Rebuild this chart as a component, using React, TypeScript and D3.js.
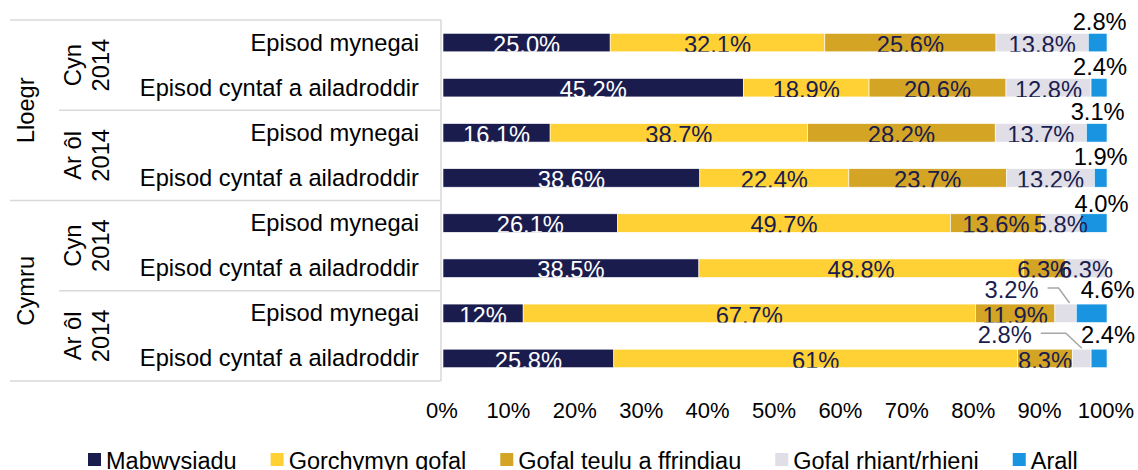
import React, { useEffect, useRef } from "react";
import * as d3 from "d3";

// ---- data ----
const groups = ["Lloegr", "Cymru"];
const periods = [["Cyn", "2014"], ["Ar ôl", "2014"]];
const episodes = ["Episod mynegai", "Episod cyntaf a ailadroddir"];
const seriesNames = ["Mabwysiadu", "Gorchymyn gofal", "Gofal teulu a ffrindiau", "Gofal rhiant/rhieni", "Arall"];
const mabwysiadu = ["25.0", "45.2", "16.1", "38.6", "26.1", "38.5", "12", "25.8"];
const gorchymynGofal = ["32.1", "18.9", "38.7", "22.4", "49.7", "48.8", "67.7", "61"];
const gofalTeulu = ["25.6", "20.6", "28.2", "23.7", "13.6", "6.3", "11.9", "8.3"];
const gofalRhiant = ["13.8", "12.8", "13.7", "13.2", "5.8", "6.3", "3.2", "2.8"];
const arall = ["2.8", "2.4", "3.1", "1.9", "4.0", "", "4.6", "2.4"];
const seriesValues = [mabwysiadu, gorchymynGofal, gofalTeulu, gofalRhiant, arall];
const xTicks = [0, 0.1, 0.2, 0.3, 0.4, 0.5, 0.6, 0.7, 0.8, 0.9, 1];

// ---- styling / layout ----
const COLORS = ["#1a1c4e", "#ffd135", "#d4a525", "#e0dfe8", "#1894e0"];
const LABEL_FILL = ["#ffffff", "#1a1c4e", "#1a1c4e", "#1a1c4e", "#000000"];
const FONT = "'Liberation Sans', Arial, sans-serif";
const W = 1138;
const H = 470;
// nudges for labels placed outside the bars
const arallNudge = [[2, -3], [1, -3], [1, -4], [0, -4], [8, -2], [0, -3], [16, -6], [9, -6]];
const rhiantOutside: Record<number, { dx: number; dy: number; elbow: number; end: number }> = {
  6: { dx: -54, dy: -6, elbow: -7, end: 4 },
  7: { dx: -77, dy: -6, elbow: -16, end: 0 },
};

export default function App() {
  const ref = useRef<SVGSVGElement>(null);

  useEffect(() => {
    const svg = d3.select(ref.current);
    svg.selectAll("*").remove();

    const nRows = groups.length * periods.length * episodes.length;
    const rows = d3.range(nRows).map((i) => {
      const o: any = { i };
      seriesNames.forEach((s, k) => (o[s] = seriesValues[k][i] === "" ? 0 : +seriesValues[k][i]));
      return o;
    });

    const x = d3.scaleLinear().domain([0, 1]).range([443, 1107]);
    const y = d3.scaleBand<number>().domain(d3.range(nRows)).range([20, 381]).paddingInner(0.59).paddingOuter(0.295);
    const bw = y.bandwidth();
    const step = y.step();
    const top = y.range()[0];
    const bottom = y.range()[1];

    const stack = d3.stack<any>().keys(seriesNames).offset(d3.stackOffsetExpand);
    const stacked = stack(rows);

    // clip paths per row
    const defs = svg.append("defs");
    d3.range(nRows).forEach((i) => {
      defs.append("clipPath").attr("id", "rowclip" + i)
        .append("rect").attr("x", 0).attr("y", y(i)!).attr("width", W).attr("height", bw);
    });

    // category axis frame
    const frame = svg.append("g").attr("stroke", "#d9d9d9").attr("stroke-width", 1.5).attr("fill", "none");
    const xAxisLine = x(0) - 2;
    frame.append("line").attr("x1", xAxisLine).attr("x2", xAxisLine).attr("y1", top).attr("y2", bottom);
    d3.range(groups.length + 1).forEach((g) => {
      const yy = top + g * step * 4;
      frame.append("line").attr("x1", 10).attr("x2", xAxisLine).attr("y1", yy).attr("y2", yy);
    });
    d3.range(groups.length).forEach((g) => {
      const yy = top + g * step * 4 + step * 2;
      frame.append("line").attr("x1", 59).attr("x2", xAxisLine).attr("y1", yy).attr("y2", yy);
    });

    // bars
    stacked.forEach((layer, k) => {
      svg.append("g").attr("fill", COLORS[k])
        .selectAll("rect").data(layer).join("rect")
        .attr("x", (d) => x(d[0]))
        .attr("y", (d, i) => y(i)!)
        .attr("width", (d) => Math.max(0, x(d[1]) - x(d[0])))
        .attr("height", bw)
        .attr("stroke", "#ffffff").attr("stroke-width", 0.6);
    });

    // labels
    stacked.forEach((layer, k) => {
      layer.forEach((d, i) => {
        const raw = seriesValues[k][i];
        if (raw === "" || +raw === 0) return;
        const cx = (x(d[0]) + x(d[1])) / 2;
        const label = raw + "%";
        if (k === 4) {
          const [dx, dy] = arallNudge[i];
          svg.append("text").attr("x", cx + dx).attr("y", y(i)! + dy)
            .attr("text-anchor", "middle").attr("font-family", FONT).attr("font-size", 23.7)
            .attr("fill", "#000").text(label);
          return;
        }
        if (k === 3 && rhiantOutside[i]) {
          const o = rhiantOutside[i];
          const t = svg.append("text").attr("x", cx + o.dx).attr("y", y(i)! + o.dy)
            .attr("text-anchor", "middle").attr("font-family", FONT).attr("font-size", 23.7)
            .attr("fill", LABEL_FILL[k]).text(label);
          const bb = (t.node() as SVGTextElement).getBBox();
          const ly = y(i)! + o.dy - 10;
          svg.append("polyline")
            .attr("points", [[bb.x + bb.width + 9, ly], [cx + o.elbow, ly], [cx + o.end, y(i)! - 1]].map((p) => p.join(",")).join(" "))
            .attr("fill", "none").attr("stroke", "#a6a6a6").attr("stroke-width", 1.5);
          return;
        }
        svg.append("text").attr("clip-path", `url(#rowclip${i})`)
          .attr("x", cx).attr("y", y(i)! + bw + 1)
          .attr("text-anchor", "middle").attr("font-family", FONT).attr("font-size", 23.7)
          .attr("fill", LABEL_FILL[k]).text(label);
      });
    });

    // x tick labels
    svg.append("g").selectAll("text").data(xTicks).join("text")
      .attr("x", (d) => x(d) - 1).attr("y", 418)
      .attr("text-anchor", "middle").attr("font-family", FONT).attr("font-size", 22)
      .attr("fill", "#000").text((d) => d3.format(".0%")(d));

    // category labels
    const cat = svg.append("g").attr("font-family", FONT).attr("font-size", 23.7).attr("fill", "#000");
    d3.range(nRows).forEach((i) => {
      cat.append("text").attr("x", 419).attr("y", y(i)! + bw / 2 + 8)
        .attr("text-anchor", "end").text(episodes[i % episodes.length]);
    });
    // period labels (rotated, two lines)
    d3.range(groups.length * periods.length).forEach((p) => {
      const cy = top + p * step * 2 + step;
      const t = cat.append("text").attr("transform", `translate(0,${cy}) rotate(-90)`).attr("text-anchor", "middle");
      const lines = periods[p % periods.length];
      t.append("tspan").attr("x", 0).attr("y", 81).text(lines[0]);
      t.append("tspan").attr("x", 0).attr("y", 109).text(lines[1]);
    });
    // group labels
    groups.forEach((g, gi) => {
      const cy = top + gi * step * 4 + step * 2;
      cat.append("text").attr("transform", `translate(34,${cy}) rotate(-90)`).attr("text-anchor", "middle").text(g);
    });

    // legend
    const lg = svg.append("g").attr("font-family", FONT).attr("font-size", 23.5);
    let lx = 88;
    seriesNames.forEach((s, k) => {
      lg.append("rect").attr("x", lx).attr("y", 453).attr("width", 13).attr("height", 13).attr("fill", COLORS[k]);
      const t = lg.append("text").attr("x", lx + 18).attr("y", 469).attr("fill", "#000").text(s);
      const w = (t.node() as SVGTextElement).getComputedTextLength();
      lx = lx + 18 + w + 34;
    });
  }, []);

  return (
    <svg ref={ref} width={W} height={H} style={{ position: "absolute", left: 0, top: 0, background: "#fff" }} />
  );
}
